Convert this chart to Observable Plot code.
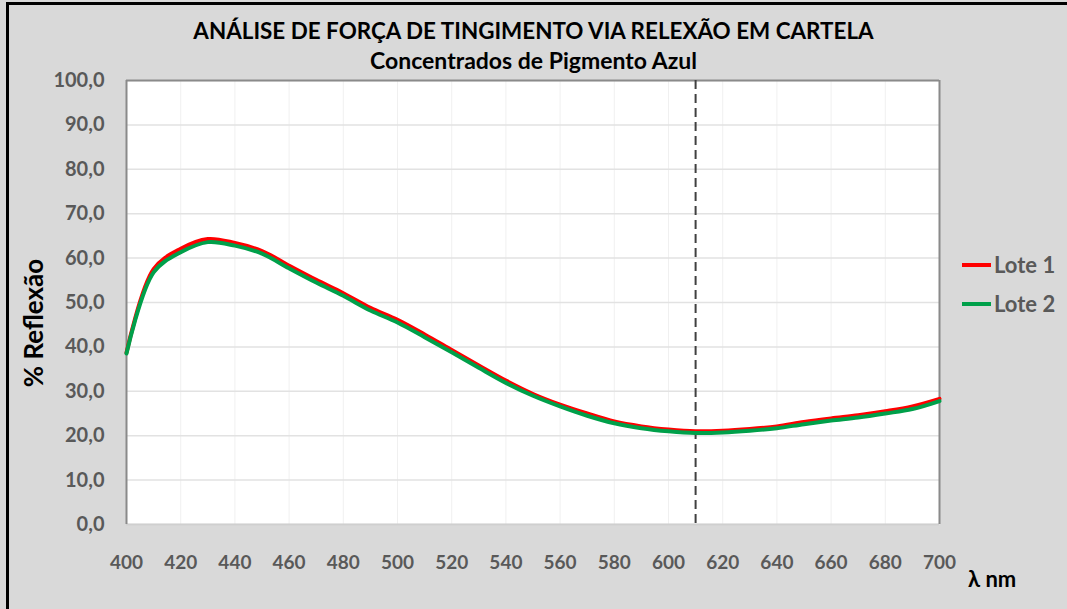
<!DOCTYPE html>
<html>
<head>
<meta charset="utf-8">
<script src="https://cdn.jsdelivr.net/npm/d3@7"></script>
<script src="https://cdn.jsdelivr.net/npm/@observablehq/plot@0.6"></script>
<style>
  html, body { margin: 0; padding: 0; }
  #wrap { position: relative; width: 1067px; height: 609px; background: #d9d9d9; overflow: hidden; font-family: Lato, "Open Sans", sans-serif; font-weight: bold; }
  #border { position: absolute; left: 6px; top: 2px; right: -10px; bottom: -10px; border-left: 3px solid #000; border-top: 3px solid #000; pointer-events: none; }
  #chart { position: absolute; left: 0; top: 0; }
  .title { position: absolute; left: 0; width: 1067px; text-align: center; color: #000; white-space: nowrap; line-height: 1; }
  #t1 { top: 19px; font-size: 23px; transform: scaleX(0.975); }
  #t2 { top: 49px; font-size: 23px; }
  #ylab { position: absolute; left: 33px; top: 323px; transform: translate(-50%, -50%) rotate(-90deg); font-size: 26px; color: #000; white-space: nowrap; }
  #xlab { position: absolute; left: 968px; top: 565px; font-size: 22px; color: #000; white-space: nowrap; }
  .leg { position: absolute; left: 962px; font-size: 22px; color: #595959; white-space: nowrap; display: flex; align-items: center; }
  .leg span.sw { display: inline-block; width: 29px; height: 4px; margin-right: 3px; }
  svg text { font-variant-numeric: tabular-nums; }
</style>
</head>
<body>
<div id="wrap">
  <div id="chart"></div>
  <div class="title" id="t1">ANÁLISE DE FORÇA DE TINGIMENTO VIA RELEXÃO EM CARTELA</div>
  <div class="title" id="t2">Concentrados de Pigmento Azul</div>
  <div id="ylab">% Reflexão</div>
  <div id="xlab">λ nm</div>
  <div class="leg" id="leg1" style="top:251px"><span class="sw" style="background:#ff0000"></span>Lote 1</div>
  <div class="leg" id="leg2" style="top:290px"><span class="sw" style="background:#00a04a"></span>Lote 2</div>
  <div id="border"></div>
</div>
<script>
const wavelengths = [400,410,420,430,440,450,460,470,480,490,500,510,520,530,540,550,560,570,580,590,600,610,620,630,640,650,660,670,680,690,700];
const lote1 = [38.7,57.5,62.1,64.3,63.4,61.6,58.3,55.1,52.1,48.8,46.1,42.8,39.3,35.8,32.4,29.4,27.0,25.0,23.2,22.1,21.4,21.0,21.1,21.5,22.1,23.1,23.9,24.6,25.5,26.6,28.3];
const lote2 = [38.5,56.8,61.3,63.6,62.8,61.0,57.7,54.5,51.5,48.2,45.5,42.2,38.8,35.3,31.9,29.0,26.6,24.5,22.8,21.7,21.0,20.6,20.7,21.1,21.7,22.6,23.4,24.1,25.0,26.0,27.8];
const seriesNames = ["Lote 1", "Lote 2"];
const seriesColors = ["#ff0000", "#00a04a"];
const xTicks = [400,420,440,460,480,500,520,540,560,580,600,620,640,660,680,700];
const yTicks = [0,10,20,30,40,50,60,70,80,90,100];
const markerWavelength = 610;

const rows = [];
[lote1, lote2].forEach((vals, si) => {
  vals.forEach((v, i) => rows.push({series: seriesNames[si], x: wavelengths[i], y: v}));
});

const fmt = d => d.toFixed(1).replace(".", ",");

const chart = Plot.plot({
  width: 1067,
  height: 609,
  marginLeft: 126,
  marginRight: 128,
  marginTop: 80,
  marginBottom: 85,
  style: {background: "transparent", fontFamily: "Lato, 'Open Sans', sans-serif", fontWeight: "bold", fontSize: "19px"},
  x: {domain: [400, 700]},
  y: {domain: [0, 100]},
  color: {domain: seriesNames, range: seriesColors},
  marks: [
    Plot.frame({fill: "white", stroke: null}),
    Plot.ruleX(xTicks, {stroke: "#f0f0f0", strokeWidth: 1}),
    Plot.ruleY(yTicks, {stroke: "#e2e2e2", strokeWidth: 1.5}),
    Plot.ruleY([0], {stroke: "#cfcfcf", strokeWidth: 2}),
    Plot.ruleY([100], {stroke: "#8a8a8a", strokeWidth: 2}),
    Plot.ruleX([700], {stroke: "#8a8a8a", strokeWidth: 2}),
    Plot.ruleX([400], {stroke: "#8a8a8a", strokeWidth: 2}),
    Plot.ruleX([markerWavelength], {stroke: "#404040", strokeWidth: 2, strokeDasharray: "9,5"}),
    Plot.line(rows, {x: "x", y: "y", stroke: "series", strokeWidth: 4, curve: "catmull-rom"}),
    Plot.axisX({ticks: xTicks, tickSize: 0, tickPadding: 31, tickFormat: d => String(d), fill: "#595959", label: null}),
    Plot.axisY({ticks: yTicks, tickSize: 0, tickPadding: 22, tickFormat: fmt, fill: "#595959", fontSize: 20, label: null})
  ]
});
document.getElementById("chart").appendChild(chart);
</script>
</body>
</html>
